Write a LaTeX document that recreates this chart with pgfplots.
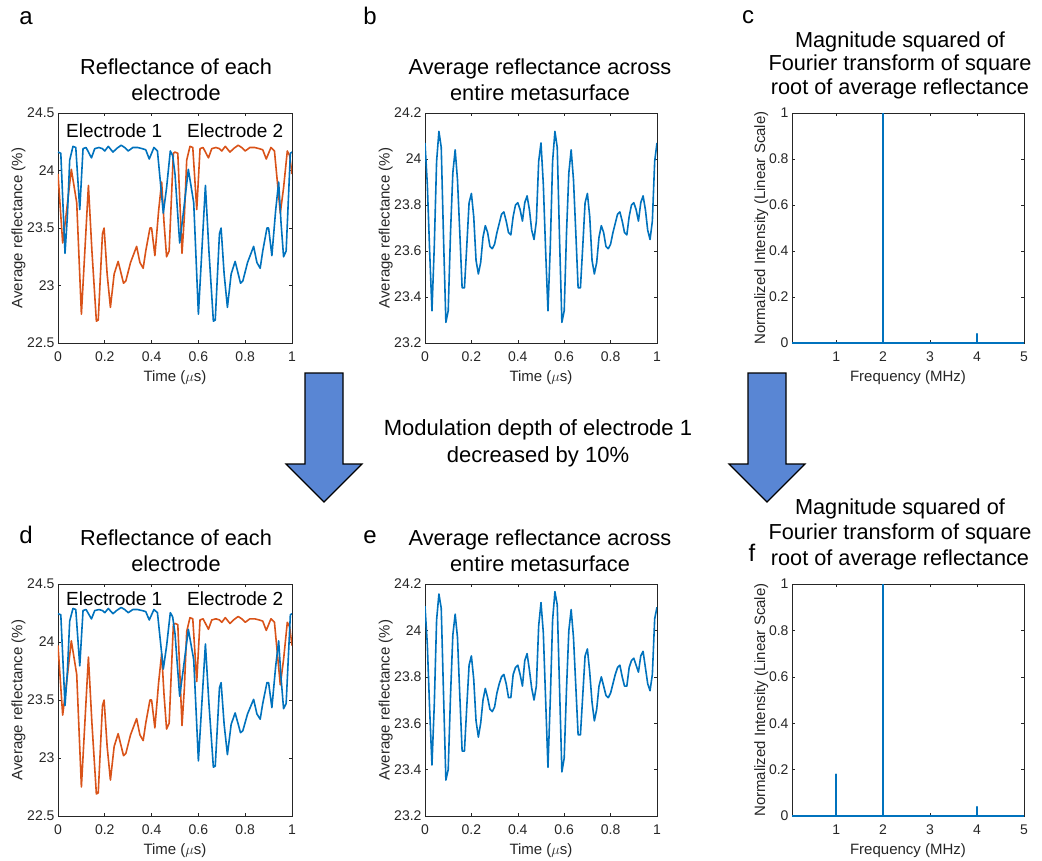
\documentclass[border=0pt]{standalone}
\usepackage{pgfplots}
\pgfplotsset{compat=1.18}
\usepackage{fontspec}
\setmainfont{Liberation Sans}
\definecolor{mblue}{rgb}{0,0.447,0.741}
\definecolor{morange}{rgb}{0.85,0.325,0.098}
\definecolor{axc}{rgb}{0.15,0.15,0.15}
\definecolor{arrowblue}{RGB}{89,134,212}
\pgfplotsset{
  mat/.style={
    scale only axis,
    axis line style={draw=axc, line width=0.6pt},
    every tick/.style={draw=axc, line width=0.6pt},
    major tick length=3.2pt,
    tick align=inside,
    xtick pos=both, ytick pos=both,
    xticklabel pos=lower, yticklabel pos=left,
    tick label style={font=\fontsize{14}{14}\selectfont, text=axc},
    xticklabel style={yshift=-5pt},
    /pgf/number format/assume math mode=true,
    every axis x label/.style={at={(axis description cs:0.5,0)}, anchor=base, yshift=-38pt, font=\fontsize{15}{15}\selectfont, text=axc},
    every axis plot/.append style={line width=1.6pt, line join=round},
  },
  ylab/.style={every axis y label/.style={at={(axis description cs:0,0.5)}, xshift=#1, rotate=90, anchor=base, font=\fontsize{15}{15}\selectfont, text=axc}},
}
\newcommand{\tfont}{\fontsize{21.7}{21.7}\selectfont}
\newcommand{\pfont}{\fontsize{24}{24}\selectfont}
\begin{document}
\begin{tikzpicture}
\path[use as bounding box] (0,0) rectangle (1042pt,-860pt);

% ---------- panel a ----------
\begin{axis}[mat, ylab=-35.5pt, at={(58pt,-343pt)}, anchor=south west, width=234pt, height=230pt,
  xmin=0, xmax=1, ymin=22.5, ymax=24.5,
  xtick={0,0.2,0.4,0.6,0.8,1}, ytick={22.5,23,23.5,24,24.5},
  xlabel={Time ($\mu$s)}, ylabel={Average reflectance (\%)}]
\addplot[morange] coordinates {(0,23.97)(0.02,23.37)(0.035,23.62)(0.057,24.01)(0.08,23.72)(0.10,22.75)(0.13,23.87)(0.145,23.30)(0.164,22.69)(0.172,22.70)(0.19,23.45)(0.197,23.50)(0.21,23.10)(0.224,22.81)(0.24,23.10)(0.257,23.21)(0.28,23.02)(0.29,23.04)(0.31,23.20)(0.336,23.34)(0.35,23.20)(0.364,23.15)(0.375,23.30)(0.393,23.50)(0.40,23.50)(0.414,23.26)(0.43,23.65)(0.443,23.90)(0.453,23.55)(0.464,23.25)(0.475,23.30)(0.493,24.15)(0.50,24.16)(0.512,24.15)(0.53,23.28)(0.54,23.60)(0.55,24.09)(0.564,24.21)(0.576,24.20)(0.593,23.66)(0.607,24.19)(0.62,24.20)(0.643,24.11)(0.657,24.19)(0.675,24.20)(0.69,24.19)(0.70,24.17)(0.715,24.21)(0.735,24.16)(0.75,24.19)(0.77,24.22)(0.785,24.20)(0.80,24.17)(0.82,24.20)(0.84,24.20)(0.86,24.19)(0.875,24.18)(0.89,24.10)(0.91,24.20)(0.925,24.17)(0.95,23.63)(0.964,23.85)(0.98,24.17)(0.99,24.13)(1,23.97)};
\addplot[mblue] coordinates {(0,24.16)(0.012,24.15)(0.03,23.28)(0.04,23.60)(0.05,24.09)(0.064,24.21)(0.076,24.20)(0.093,23.66)(0.107,24.19)(0.12,24.20)(0.143,24.11)(0.157,24.19)(0.175,24.20)(0.19,24.19)(0.2,24.17)(0.215,24.21)(0.235,24.16)(0.25,24.19)(0.27,24.22)(0.285,24.20)(0.30,24.17)(0.32,24.20)(0.34,24.20)(0.36,24.19)(0.375,24.18)(0.39,24.10)(0.41,24.20)(0.425,24.17)(0.45,23.63)(0.464,23.85)(0.48,24.17)(0.49,24.13)(0.50,23.97)(0.52,23.37)(0.535,23.62)(0.557,24.01)(0.58,23.72)(0.60,22.75)(0.63,23.87)(0.645,23.30)(0.664,22.69)(0.672,22.70)(0.69,23.45)(0.697,23.50)(0.71,23.10)(0.724,22.81)(0.74,23.10)(0.757,23.21)(0.78,23.02)(0.79,23.04)(0.81,23.20)(0.836,23.34)(0.85,23.20)(0.864,23.15)(0.875,23.30)(0.893,23.50)(0.9,23.50)(0.914,23.26)(0.93,23.65)(0.943,23.90)(0.953,23.55)(0.964,23.25)(0.975,23.30)(0.993,24.15)(1,24.16)};
\end{axis}

% ---------- panel b ----------
\begin{axis}[mat, ylab=-35.5pt, at={(425pt,-343pt)}, anchor=south west, width=232pt, height=230pt,
  xmin=0, xmax=1, ymin=23.2, ymax=24.2,
  xtick={0,0.2,0.4,0.6,0.8,1}, ytick={23.2,23.4,23.6,23.8,24,24.2},
  xlabel={Time ($\mu$s)}, ylabel={Average reflectance (\%)}]
\addplot[mblue] coordinates {(0,24.07)(0.01,23.89)(0.02,23.60)(0.03,23.34)(0.04,23.62)(0.05,23.99)(0.06,24.12)(0.07,24.05)(0.08,23.65)(0.09,23.29)(0.10,23.34)(0.11,23.68)(0.12,23.94)(0.13,24.04)(0.14,23.91)(0.15,23.68)(0.16,23.44)(0.17,23.44)(0.18,23.62)(0.19,23.81)(0.20,23.85)(0.21,23.75)(0.22,23.56)(0.23,23.50)(0.24,23.55)(0.25,23.66)(0.26,23.71)(0.27,23.68)(0.28,23.62)(0.29,23.61)(0.30,23.63)(0.31,23.68)(0.32,23.72)(0.33,23.76)(0.34,23.77)(0.35,23.73)(0.36,23.68)(0.37,23.67)(0.38,23.75)(0.39,23.80)(0.40,23.81)(0.41,23.78)(0.42,23.73)(0.43,23.81)(0.44,23.84)(0.45,23.78)(0.46,23.69)(0.47,23.65)(0.48,23.73)(0.49,23.99)(0.50,24.07)(0.51,23.89)(0.52,23.60)(0.53,23.34)(0.54,23.62)(0.55,23.99)(0.56,24.12)(0.57,24.05)(0.58,23.65)(0.59,23.29)(0.60,23.34)(0.61,23.68)(0.62,23.94)(0.63,24.04)(0.64,23.91)(0.65,23.68)(0.66,23.44)(0.67,23.44)(0.68,23.62)(0.69,23.81)(0.70,23.85)(0.71,23.75)(0.72,23.56)(0.73,23.50)(0.74,23.55)(0.75,23.66)(0.76,23.71)(0.77,23.68)(0.78,23.62)(0.79,23.61)(0.80,23.63)(0.81,23.68)(0.82,23.72)(0.83,23.76)(0.84,23.77)(0.85,23.73)(0.86,23.68)(0.87,23.67)(0.88,23.75)(0.89,23.80)(0.90,23.81)(0.91,23.78)(0.92,23.73)(0.93,23.81)(0.94,23.84)(0.95,23.78)(0.96,23.69)(0.97,23.65)(0.98,23.73)(0.99,23.99)(1.00,24.07)};
\end{axis}

% ---------- panel c ----------
\begin{axis}[mat, ylab=-27pt, at={(792pt,-343pt)}, anchor=south west, width=232pt, height=230pt,
  xmin=0.06, xmax=5, ymin=0, ymax=1,
  xtick={1,2,3,4,5}, ytick={0,0.2,0.4,0.6,0.8,1},
  xlabel={Frequency (MHz)}, ylabel={Normalized Intensity (Linear Scale)}]
\addplot[mblue] coordinates {(0.06,0)(2,0)(2,1)(2,0)(4,0)(4,0.04)(4,0)(5,0)};
\end{axis}

% ---------- panel d ----------
\begin{axis}[mat, ylab=-35.5pt, at={(58pt,-816pt)}, anchor=south west, width=234pt, height=232pt,
  xmin=0, xmax=1, ymin=22.5, ymax=24.5,
  xtick={0,0.2,0.4,0.6,0.8,1}, ytick={22.5,23,23.5,24,24.5},
  xlabel={Time ($\mu$s)}, ylabel={Average reflectance (\%)}]
\addplot[morange] coordinates {(0,23.97)(0.02,23.37)(0.035,23.62)(0.057,24.01)(0.08,23.72)(0.10,22.75)(0.13,23.87)(0.145,23.30)(0.164,22.69)(0.172,22.70)(0.19,23.45)(0.197,23.50)(0.21,23.10)(0.224,22.81)(0.24,23.10)(0.257,23.21)(0.28,23.02)(0.29,23.04)(0.31,23.20)(0.336,23.34)(0.35,23.20)(0.364,23.15)(0.375,23.30)(0.393,23.50)(0.40,23.50)(0.414,23.26)(0.43,23.65)(0.443,23.90)(0.453,23.55)(0.464,23.25)(0.475,23.30)(0.493,24.15)(0.50,24.16)(0.512,24.15)(0.53,23.28)(0.54,23.60)(0.55,24.09)(0.564,24.21)(0.576,24.20)(0.593,23.66)(0.607,24.19)(0.62,24.20)(0.643,24.11)(0.657,24.19)(0.675,24.20)(0.69,24.19)(0.70,24.17)(0.715,24.21)(0.735,24.16)(0.75,24.19)(0.77,24.22)(0.785,24.20)(0.80,24.17)(0.82,24.20)(0.84,24.20)(0.86,24.19)(0.875,24.18)(0.89,24.10)(0.91,24.20)(0.925,24.17)(0.95,23.63)(0.964,23.85)(0.98,24.17)(0.99,24.13)(1,23.97)};
\addplot[mblue] coordinates {(0,24.244)(0.012,24.235)(0.03,23.452)(0.04,23.74)(0.05,24.181)(0.064,24.289)(0.076,24.28)(0.093,23.794)(0.107,24.271)(0.12,24.28)(0.143,24.199)(0.157,24.271)(0.175,24.28)(0.19,24.271)(0.2,24.253)(0.215,24.289)(0.235,24.244)(0.25,24.271)(0.27,24.298)(0.285,24.28)(0.30,24.253)(0.32,24.28)(0.34,24.28)(0.36,24.271)(0.375,24.262)(0.39,24.19)(0.41,24.28)(0.425,24.253)(0.45,23.767)(0.464,23.965)(0.48,24.253)(0.49,24.217)(0.50,24.073)(0.52,23.533)(0.535,23.758)(0.557,24.109)(0.58,23.848)(0.60,22.975)(0.63,23.983)(0.645,23.47)(0.664,22.921)(0.672,22.93)(0.69,23.605)(0.697,23.65)(0.71,23.29)(0.724,23.029)(0.74,23.29)(0.757,23.389)(0.78,23.218)(0.79,23.236)(0.81,23.38)(0.836,23.506)(0.85,23.38)(0.864,23.335)(0.875,23.47)(0.893,23.65)(0.9,23.65)(0.914,23.434)(0.93,23.785)(0.943,24.01)(0.953,23.695)(0.964,23.425)(0.975,23.47)(0.993,24.235)(1,24.244)};
\end{axis}

% ---------- panel e ----------
\begin{axis}[mat, ylab=-35.5pt, at={(425pt,-816pt)}, anchor=south west, width=232pt, height=232pt,
  xmin=0, xmax=1, ymin=23.2, ymax=24.2,
  xtick={0,0.2,0.4,0.6,0.8,1}, ytick={23.2,23.4,23.6,23.8,24,24.2},
  xlabel={Time ($\mu$s)}, ylabel={Average reflectance (\%)}]
\addplot[mblue] coordinates {(0,24.105)(0.01,23.94)(0.02,23.66)(0.03,23.42)(0.04,23.68)(0.05,24.045)(0.06,24.157)(0.07,24.095)(0.08,23.72)(0.09,23.355)(0.10,23.40)(0.11,23.72)(0.12,23.98)(0.13,24.07)(0.14,23.97)(0.15,23.72)(0.16,23.48)(0.17,23.48)(0.18,23.67)(0.19,23.85)(0.20,23.89)(0.21,23.79)(0.22,23.61)(0.23,23.54)(0.24,23.60)(0.25,23.70)(0.26,23.75)(0.27,23.71)(0.28,23.66)(0.29,23.65)(0.30,23.67)(0.31,23.73)(0.32,23.77)(0.33,23.80)(0.34,23.81)(0.35,23.77)(0.36,23.71)(0.37,23.71)(0.38,23.81)(0.39,23.84)(0.40,23.85)(0.41,23.81)(0.42,23.76)(0.43,23.87)(0.44,23.90)(0.45,23.83)(0.46,23.75)(0.47,23.70)(0.48,23.76)(0.49,24.02)(0.50,24.12)(0.51,23.99)(0.52,23.70)(0.53,23.41)(0.54,23.70)(0.55,24.045)(0.56,24.167)(0.57,24.11)(0.58,23.75)(0.59,23.39)(0.60,23.45)(0.61,23.75)(0.62,24.00)(0.63,24.09)(0.64,23.97)(0.65,23.76)(0.66,23.55)(0.67,23.55)(0.68,23.72)(0.69,23.89)(0.70,23.92)(0.71,23.82)(0.72,23.69)(0.73,23.61)(0.74,23.66)(0.75,23.76)(0.76,23.80)(0.77,23.76)(0.78,23.72)(0.79,23.71)(0.80,23.73)(0.81,23.77)(0.82,23.81)(0.83,23.84)(0.84,23.85)(0.85,23.80)(0.86,23.76)(0.87,23.76)(0.88,23.84)(0.89,23.87)(0.90,23.88)(0.91,23.85)(0.92,23.82)(0.93,23.89)(0.94,23.91)(0.95,23.84)(0.96,23.77)(0.97,23.74)(0.98,23.81)(0.99,24.05)(1.00,24.10)};
\end{axis}

% ---------- panel f ----------
\begin{axis}[mat, ylab=-27pt, at={(792pt,-816pt)}, anchor=south west, width=232pt, height=232pt,
  xmin=0.06, xmax=5, ymin=0, ymax=1,
  xtick={1,2,3,4,5}, ytick={0,0.2,0.4,0.6,0.8,1},
  xlabel={Frequency (MHz)}, ylabel={Normalized Intensity (Linear Scale)}]
\addplot[mblue] coordinates {(0.06,0)(1,0)(1,0.18)(1,0)(2,0)(2,1)(2,0)(4,0)(4,0.04)(4,0)(5,0)};
\end{axis}

% ---------- texts ----------
\node[anchor=base, font=\pfont] at (26pt,-24pt) {a};
\node[anchor=base, font=\pfont] at (370pt,-24pt) {b};
\node[anchor=base, font=\pfont] at (748pt,-23pt) {c};
\node[anchor=base, font=\pfont] at (26pt,-543pt) {d};
\node[anchor=base, font=\pfont] at (370pt,-543pt) {e};
\node[anchor=base, font=\pfont] at (752pt,-561pt) {f};

\node[anchor=base, font=\tfont] at (176pt,-74pt) {Reflectance of each};
\node[anchor=base, font=\tfont] at (176pt,-100pt) {electrode};
\node[anchor=base, font=\tfont] at (540pt,-74pt) {Average reflectance across};
\node[anchor=base, font=\tfont] at (540pt,-100pt) {entire metasurface};
\node[anchor=base, font=\tfont] at (900pt,-47pt) {Magnitude squared of};
\node[anchor=base, font=\tfont] at (900pt,-70.5pt) {Fourier transform of square};
\node[anchor=base, font=\tfont] at (900pt,-94pt) {root of average reflectance};

\node[anchor=base, font=\tfont] at (176pt,-545pt) {Reflectance of each};
\node[anchor=base, font=\tfont] at (176pt,-571pt) {electrode};
\node[anchor=base, font=\tfont] at (540pt,-545pt) {Average reflectance across};
\node[anchor=base, font=\tfont] at (540pt,-571pt) {entire metasurface};
\node[anchor=base, font=\tfont] at (900pt,-514pt) {Magnitude squared of};
\node[anchor=base, font=\tfont] at (900pt,-539pt) {Fourier transform of square};
\node[anchor=base, font=\tfont] at (900pt,-565pt) {root of average reflectance};

\node[anchor=base west, font=\fontsize{19}{19}\selectfont, inner sep=0pt] at (66pt,-137pt) {Electrode 1};
\node[anchor=base west, font=\fontsize{19}{19}\selectfont, inner sep=0pt] at (187pt,-137pt) {Electrode 2};
\node[anchor=base west, font=\fontsize{19}{19}\selectfont, inner sep=0pt] at (66pt,-605pt) {Electrode 1};
\node[anchor=base west, font=\fontsize{19}{19}\selectfont, inner sep=0pt] at (187pt,-605pt) {Electrode 2};

\node[anchor=base, font=\fontsize{22}{22}\selectfont] at (538pt,-435pt) {Modulation depth of electrode 1};
\node[anchor=base, font=\fontsize{22}{22}\selectfont] at (538pt,-462pt) {decreased by 10\%};

% ---------- arrows ----------
\draw[fill=arrowblue, draw=black, line width=1.2pt, line join=miter]
  (305pt,-373pt) -- (343pt,-373pt) -- (343pt,-464pt) -- (362pt,-464pt) -- (324pt,-502pt) -- (286pt,-464pt) -- (305pt,-464pt) -- cycle;
\draw[fill=arrowblue, draw=black, line width=1.2pt, line join=miter]
  (748pt,-373pt) -- (786pt,-373pt) -- (786pt,-464pt) -- (805pt,-464pt) -- (767pt,-502pt) -- (729pt,-464pt) -- (748pt,-464pt) -- cycle;
\end{tikzpicture}
\end{document}
